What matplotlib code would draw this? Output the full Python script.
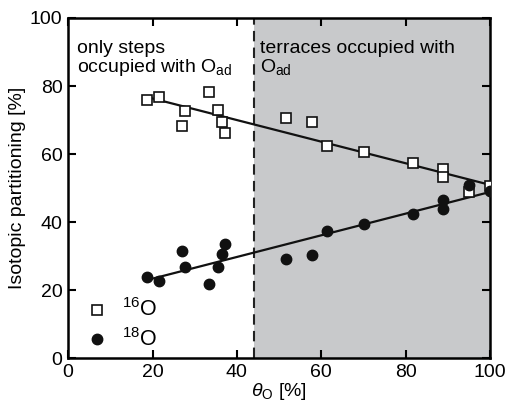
import numpy as np
import matplotlib
matplotlib.use("Agg")
import matplotlib.pyplot as plt

plt.rcParams['font.family'] = ['Liberation Sans', 'DejaVu Sans']
plt.rcParams['mathtext.fontset'] = 'custom'
plt.rcParams['mathtext.rm'] = 'Liberation Sans'
plt.rcParams['mathtext.it'] = 'Liberation Sans:italic'

# coverage theta_O [%]
coverage = [18.8, 21.6, 26.9, 27.7, 33.4, 35.6, 36.4, 37.2,
            51.6, 57.7, 61.4, 70.2, 81.6, 88.9, 88.9, 95.0, 100.0]
# 16O share [%]
o16 = [76.0, 76.9, 68.3, 72.8, 78.1, 73.0, 69.3, 66.2,
       70.6, 69.5, 62.3, 60.5, 57.4, 55.7, 53.3, 48.9, 50.7]
# 18O share [%]
o18 = [23.8, 22.7, 31.5, 26.8, 21.7, 26.8, 30.5, 33.6,
       29.2, 30.3, 37.3, 39.3, 42.3, 46.6, 44.0, 51.0, 49.1]
step_limit = 44.1

fig = plt.figure(figsize=(5.08, 4.08), dpi=100)
ax = fig.add_axes([0.134, 0.122, 0.831, 0.834])

ax.axvspan(step_limit, 100, color='#c8c9cb', lw=0, zorder=0)
ax.axvline(step_limit, color='#222222', ls=(0, (5, 3)), lw=1.5, zorder=1)

# linear fits
xf = np.array([min(coverage) + 1, 100])
for ys in (o16, o18):
    k, b = np.polyfit(coverage, ys, 1)
    ax.plot(xf, k * xf + b, color='#111111', lw=1.6, zorder=2)

ax.plot(coverage, o16, 's', ms=7.5, mfc='white', mec='#111111', mew=1.2, ls='none', zorder=3)
ax.plot(coverage, o18, 'o', ms=7.5, mfc='#111111', mec='#111111', ls='none', zorder=3)

# legend drawn by hand
ax.plot([6.8], [14.2], 's', ms=7.5, mfc='white', mec='#111111', mew=1.2, clip_on=False)
ax.plot([6.8], [5.6], 'o', ms=7.5, mfc='#111111', mec='#111111', clip_on=False)
ax.text(12.8, 14.2, r'$^{16}$O', fontsize=15.5, va='center', ha='left')
ax.text(12.8, 5.6, r'$^{18}$O', fontsize=15.5, va='center', ha='left')

ax.text(2, 93.5, 'only steps\noccupied with O$_{\\mathrm{ad}}$', fontsize=14,
        va='top', ha='left', linespacing=1.0)
ax.text(45.5, 93.5, 'terraces occupied with\nO$_{\\mathrm{ad}}$', fontsize=14,
        va='top', ha='left', linespacing=1.0)

ax.set_xlim(0, 100)
ax.set_ylim(0, 100)
ax.set_xticks([0, 20, 40, 60, 80, 100])
ax.set_yticks([0, 20, 40, 60, 80, 100])
ax.tick_params(direction='in', length=6, width=1.5, labelsize=14,
               top=True, right=True, pad=4)
for s in ax.spines.values():
    s.set_linewidth(1.8)
ax.set_xlabel(r'$\theta_{\mathrm{O}}$ [%]', fontsize=14, labelpad=0)
ax.set_ylabel('Isotopic partitioning [%]', fontsize=14, labelpad=3)

fig.savefig('out.png', dpi=100)
